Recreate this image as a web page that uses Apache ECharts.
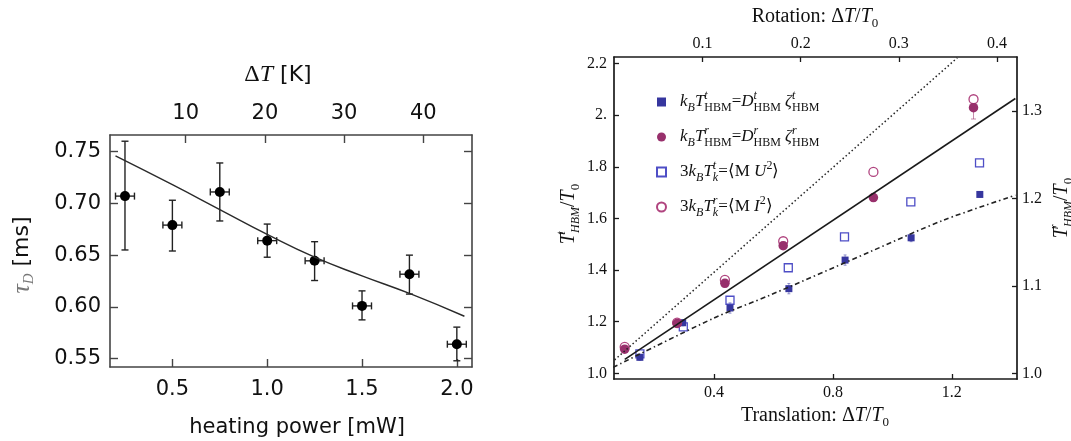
<!DOCTYPE html>
<html><head><meta charset="utf-8">
<script src="https://cdn.jsdelivr.net/npm/echarts@6/dist/echarts.min.js"></script>
<style>html,body{margin:0;padding:0;background:#fff}#c{width:1071px;height:441px}</style>
</head><body><div id="c"></div><script>
// ---------- Left panel data ----------
const powerMW   = [0.25, 0.50, 0.75, 1.00, 1.25, 1.50, 1.75, 2.00];
const tauD      = [0.707, 0.679, 0.711, 0.664, 0.6445, 0.601, 0.6316, 0.564];
const tauHi     = [0.760, 0.703, 0.739, 0.680, 0.663, 0.6155, 0.650, 0.5805];
const tauLo     = [0.655, 0.654, 0.683, 0.648, 0.6255, 0.5875, 0.6124, 0.548];
const powerErr  = [0.05, 0.05, 0.05, 0.05, 0.05, 0.05, 0.05, 0.05];
const fitPower  = [0.20, 0.50, 0.75, 1.00, 1.25, 1.50, 1.75, 2.04];
const fitTau    = [0.7458, 0.718, 0.694, 0.670, 0.648, 0.630, 0.613, 0.591];
const leftXTicks   = [0.5, 1.0, 1.5, 2.0];
const leftTopTicks = [10, 20, 30, 40];
const leftYTicks   = [0.55, 0.60, 0.65, 0.70, 0.75];

// ---------- Right panel data ----------
// translation (bottom x / left y)
const transX      = [0.151, 0.295, 0.454, 0.652, 0.841, 1.063, 1.294];
const transHBM    = [1.062, 1.196, 1.253, 1.328, 1.4387, 1.525, 1.693];
const transHBMErr = [0.012, 0.012, 0.02, 0.02, 0.02, 0.015, 0.01];
const transKinX   = [0.151, 0.297, 0.454, 0.650, 0.839, 1.062, 1.293];
const transKin    = [1.075, 1.180, 1.283, 1.409, 1.529, 1.664, 1.815];
// rotation (top x / right y)
const rotX        = [0.0207, 0.0741, 0.1228, 0.1822, 0.2741, 0.3761];
const rotHBM      = [1.0276, 1.057, 1.1029, 1.146, 1.2009, 1.3038];
const rotHBMErrLo = [0.004, 0.004, 0.004, 0.004, 0.004, 0.013];
const rotHBMErrHi = [0.004, 0.004, 0.004, 0.004, 0.004, 0.004];
const rotKin      = [1.0302, 1.058, 1.1068, 1.151, 1.2303, 1.3134];
// guide lines (bottom x / left y)
const dottedX  = [0.066, 1.218];
const dottedY  = [1.052, 2.222];
const solidX   = [0.1003, 1.4135];
const solidY   = [1.054, 2.0646];
const dashDotX = [0.061, 0.398, 0.5886, 0.925, 1.172, 1.4135];
const dashDotY = [1.023, 1.213, 1.303, 1.471, 1.5935, 1.690];
const rXTicks   = [0.4, 0.8, 1.2];
const rTopTicks = [0.1, 0.2, 0.3, 0.4];
const rYTicks   = [1.0, 1.2, 1.4, 1.6, 1.8, 2.0, 2.2];
const rY2Ticks  = [1.0, 1.1, 1.2, 1.3];

const zip = (a, b) => a.map((v, i) => [v, b[i]]);
const LF = 'DejaVu Sans', SF = 'Liberation Serif';
const C_SQ = '#36369e', C_SQO = '#4e4ec6', C_CI = '#98306c', C_CIO = '#b0447f';

function errRender(cap, color, width) {
  return function (params, api) {
    const x = api.value(0), y = api.value(1), lo = api.value(2), hi = api.value(3), xe = api.value(4);
    const c = api.coord([x, y]);
    const pl = api.coord([x, lo]), ph = api.coord([x, hi]);
    const st = { stroke: color, lineWidth: width };
    const ch = [
      { type: 'line', shape: { x1: c[0], y1: pl[1], x2: c[0], y2: ph[1] }, style: st },
      { type: 'line', shape: { x1: c[0] - cap, y1: pl[1], x2: c[0] + cap, y2: pl[1] }, style: st },
      { type: 'line', shape: { x1: c[0] - cap, y1: ph[1], x2: c[0] + cap, y2: ph[1] }, style: st }
    ];
    if (xe > 0) {
      const xl = api.coord([x - xe, y]), xh = api.coord([x + xe, y]);
      ch.push({ type: 'line', shape: { x1: xl[0], y1: c[1], x2: xh[0], y2: c[1] }, style: st });
      ch.push({ type: 'line', shape: { x1: xl[0], y1: c[1] - cap, x2: xl[0], y2: c[1] + cap }, style: st });
      ch.push({ type: 'line', shape: { x1: xh[0], y1: c[1] - cap, x2: xh[0], y2: c[1] + cap }, style: st });
    }
    return { type: 'group', children: ch };
  };
}

function leftAxis(extra) {
  return Object.assign({
    type: 'value', gridIndex: 0, scale: true,
    axisLine: { show: true, onZero: false, lineStyle: { color: '#444', width: 1.6 } },
    splitLine: { show: false }
  }, extra);
}
function rightAxis(extra) {
  return Object.assign({
    type: 'value', gridIndex: 1, scale: true,
    axisLine: { show: true, onZero: false, lineStyle: { color: '#1a1a1a', width: 1.7 } },
    splitLine: { show: false }
  }, extra);
}
const lTick = vals => ({ show: true, inside: true, length: 8, customValues: vals, lineStyle: { color: '#444', width: 1.4 } });
const rTick = vals => ({ show: true, inside: true, length: 5, customValues: vals, lineStyle: { color: '#1a1a1a', width: 1.3 } });

const richBase = {
  it:  { fontFamily: SF, fontStyle: 'italic', fontSize: 17, lineHeight: 24, verticalAlign: 'middle', color: '#111' },
  rm:  { fontFamily: SF, fontSize: 17, lineHeight: 24, verticalAlign: 'middle', color: '#111' },
  sub: { fontFamily: SF, fontSize: 12, lineHeight: 12, verticalAlign: 'bottom', color: '#111' },
  subi:{ fontFamily: SF, fontStyle: 'italic', fontSize: 12, lineHeight: 12, verticalAlign: 'bottom', color: '#111' },
  sup0:{ fontFamily: SF, fontStyle: 'italic', fontSize: 12, lineHeight: 12, verticalAlign: 'top', width: 0, color: '#111' },
  sup: { fontFamily: SF, fontSize: 12, lineHeight: 12, verticalAlign: 'top', color: '#111' },
  sp:  { fontSize: 10, width: 9 }
};
const legendNames = ['tHBM', 'rHBM', 'tKin', 'rKin'];
const legendText = {
  tHBM: '{sp| }{it|k}{subi|B}{it|T}{sup0|t}{sub|HBM}{rm|=}{it|D}{sup0|t}{sub|HBM} {it|ζ}{sup0|t}{sub|HBM}',
  rHBM: '{sp| }{it|k}{subi|B}{it|T}{sup0|r}{sub|HBM}{rm|=}{it|D}{sup0|r}{sub|HBM} {it|ζ}{sup0|r}{sub|HBM}',
  tKin: '{sp| }{rm|3}{it|k}{subi|B}{it|T}{sup0|t}{subi|k}{rm|=⟨M }{it|U}{sup|2}{rm|⟩}',
  rKin: '{sp| }{rm|3}{it|k}{subi|B}{it|T}{sup0|r}{subi|k}{rm|=⟨M }{it|I}{sup|2}{rm|⟩}'
};

const titleRich = {
  it:  { fontFamily: SF, fontStyle: 'italic', fontSize: 20, lineHeight: 26, verticalAlign: 'middle', fill: '#111' },
  rm:  { fontFamily: SF, fontSize: 20, lineHeight: 26, verticalAlign: 'middle', fill: '#111' },
  sub: { fontFamily: SF, fontSize: 13, lineHeight: 13, verticalAlign: 'bottom', fill: '#111' },
  subi:{ fontFamily: SF, fontStyle: 'italic', fontSize: 12, lineHeight: 12, verticalAlign: 'bottom', fill: '#111' },
  sup0:{ fontFamily: SF, fontStyle: 'italic', fontSize: 12, lineHeight: 12, verticalAlign: 'top', width: 0, fill: '#111' }
};
function txt(x, y, text, rich, rot) {
  return { type: 'text', x: x, y: y, rotation: rot || 0, silent: true,
    style: { text: text, rich: rich, align: 'center', verticalAlign: 'middle' } };
}
const lLab = (vals, fmt, margin) => ({ customValues: vals, formatter: fmt, margin: margin, fontFamily: LF, fontSize: 21, color: '#111' });
const rLab = (vals, fmt, margin) => ({ customValues: vals, formatter: fmt, margin: margin, fontFamily: SF, fontSize: 16, color: '#111' });

const option = {
  backgroundColor: '#fff',
  animation: false,
  grid: [
    { left: 110, top: 135, width: 362, height: 232 },
    { left: 614, top: 57, width: 403, height: 322 }
  ],
  xAxis: [
    leftAxis({ position: 'bottom', min: 0.171, max: 2.08, axisTick: lTick(leftXTicks), axisLabel: lLab(leftXTicks, v => v.toFixed(1), 12) }),
    leftAxis({ position: 'top', min: 0.44, max: 46.15, axisTick: lTick(leftTopTicks), axisLabel: lLab(leftTopTicks, v => String(v), 11) }),
    rightAxis({ position: 'bottom', min: 0.064, max: 1.419, axisTick: rTick(rXTicks), axisLabel: rLab(rXTicks, v => v.toFixed(1), 6) }),
    rightAxis({ position: 'top', min: 0.0098, max: 0.4204, axisTick: rTick(rTopTicks), axisLabel: rLab(rTopTicks, v => v.toFixed(1), 5) })
  ],
  yAxis: [
    leftAxis({ position: 'left', min: 0.542, max: 0.766, axisTick: lTick(leftYTicks), axisLabel: lLab(leftYTicks, v => v.toFixed(2), 9) }),
    leftAxis({ position: 'right', min: 0.542, max: 0.766, axisTick: lTick(leftYTicks), axisLabel: { show: false } }),
    rightAxis({ position: 'left', min: 0.978, max: 2.2255, axisTick: rTick(rYTicks),
      axisLabel: rLab(rYTicks, v => (Math.abs(v - 2) < 1e-9 ? '2.' : v.toFixed(1)), 7) }),
    rightAxis({ position: 'right', min: 0.9935, max: 1.3617, axisTick: rTick(rY2Ticks), axisLabel: rLab(rY2Ticks, v => v.toFixed(1), 5) })
  ],
  legend: {
    orient: 'vertical', left: 651, top: 85, itemWidth: 9, itemHeight: 9, itemGap: 11,
    selectedMode: false, data: legendNames,
    formatter: n => legendText[n],
    textStyle: { rich: richBase, fontFamily: SF, fontSize: 17, color: '#111' }
  },
  graphic: [
    txt(278, 75, '{d|Δ}{it|T}{s| [K]}', {
      d: { fontFamily: SF, fontSize: 24, fill: '#111', lineHeight: 28 },
      it: { fontFamily: SF, fontStyle: 'italic', fontSize: 24, fill: '#111', lineHeight: 28 },
      s: { fontFamily: LF, fontSize: 22, fill: '#111', lineHeight: 28 } }),
    txt(22, 255, '{tau|τ}{tsub|D}{s| [ms]}', {
      tau: { fontFamily: SF, fontStyle: 'italic', fontSize: 26, fill: '#777', lineHeight: 30, verticalAlign: 'middle' },
      tsub: { fontFamily: SF, fontStyle: 'italic', fontSize: 15, fill: '#777', lineHeight: 15, verticalAlign: 'bottom' },
      s: { fontFamily: LF, fontSize: 22, fill: '#111', lineHeight: 30, verticalAlign: 'middle' } }, Math.PI / 2),
    txt(297, 428, '{s|heating power [mW]}', { s: { fontFamily: LF, fontSize: 21, fill: '#111' } }),
    txt(815, 17, '{rm|Rotation: Δ}{it|T}{rm|/}{it|T}{sub|0}', titleRich),
    txt(815, 416, '{rm|Translation: Δ}{it|T}{rm|/}{it|T}{sub|0}', titleRich),
    txt(569, 214, '{it|T}{sup0|t}{subi|HBM}{rm|/}{it|T}{sub|0}', titleRich, Math.PI / 2),
    txt(1062, 208, '{it|T}{sup0|r}{subi|HBM}{rm|/}{it|T}{sub|0}', titleRich, Math.PI / 2)
  ],
  series: [
    // left panel
    { type: 'line', xAxisIndex: 0, yAxisIndex: 0, data: zip(fitPower, fitTau), smooth: true, symbol: 'none',
      lineStyle: { color: '#2a2a2a', width: 1.4 }, silent: true },
    { type: 'custom', xAxisIndex: 0, yAxisIndex: 0, renderItem: errRender(3.5, '#222', 1.4),
      data: powerMW.map((x, i) => [x, tauD[i], tauLo[i], tauHi[i], powerErr[i]]), silent: true },
    { type: 'scatter', xAxisIndex: 0, yAxisIndex: 0, data: zip(powerMW, tauD), symbol: 'circle', symbolSize: 10,
      itemStyle: { color: '#000', opacity: 1 }, silent: true },
    // right panel guide lines
    { type: 'line', xAxisIndex: 2, yAxisIndex: 2, data: zip(dottedX, dottedY), symbol: 'none', silent: true,
      lineStyle: { color: '#222', width: 1.5, type: [1.5, 2.5] } },
    { type: 'line', xAxisIndex: 2, yAxisIndex: 2, data: zip(solidX, solidY), symbol: 'none', silent: true,
      lineStyle: { color: '#1a1a1a', width: 1.6 } },
    { type: 'line', xAxisIndex: 2, yAxisIndex: 2, data: zip(dashDotX, dashDotY), symbol: 'none', smooth: 0.3, silent: true,
      lineStyle: { color: '#222', width: 1.6, type: [5, 3, 1.5, 3] } },
    // error bars
    { type: 'custom', xAxisIndex: 2, yAxisIndex: 2, renderItem: errRender(1.5, 'rgba(70,70,170,0.55)', 1),
      data: transX.map((x, i) => [x, transHBM[i], transHBM[i] - transHBMErr[i], transHBM[i] + transHBMErr[i], 0]), silent: true },
    { type: 'custom', xAxisIndex: 3, yAxisIndex: 3, renderItem: errRender(2.5, 'rgba(160,60,115,0.6)', 1),
      data: rotX.map((x, i) => [x, rotHBM[i], rotHBM[i] - rotHBMErrLo[i], rotHBM[i] + rotHBMErrHi[i], 0]), silent: true },
    // markers
    { name: 'tKin', type: 'scatter', xAxisIndex: 2, yAxisIndex: 2, data: zip(transKinX, transKin), symbol: 'rect', symbolSize: 8,
      itemStyle: { color: 'rgba(255,255,255,0)', borderColor: C_SQO, borderWidth: 1.3, opacity: 1 }, silent: true },
    { name: 'tHBM', type: 'scatter', xAxisIndex: 2, yAxisIndex: 2, data: zip(transX, transHBM), symbol: 'rect', symbolSize: 7,
      itemStyle: { color: C_SQ, opacity: 1 }, silent: true },
    { name: 'rKin', type: 'scatter', xAxisIndex: 3, yAxisIndex: 3, data: zip(rotX, rotKin), symbol: 'circle', symbolSize: 9,
      itemStyle: { color: 'rgba(255,255,255,0)', borderColor: C_CIO, borderWidth: 1.3, opacity: 1 }, silent: true },
    { name: 'rHBM', type: 'scatter', xAxisIndex: 3, yAxisIndex: 3, data: zip(rotX, rotHBM), symbol: 'circle', symbolSize: 9.5,
      itemStyle: { color: C_CI, opacity: 1 }, silent: true }
  ]
};
const chart = echarts.init(document.getElementById('c'), null, { renderer: 'canvas' });
chart.setOption(option);
</script></body></html>
